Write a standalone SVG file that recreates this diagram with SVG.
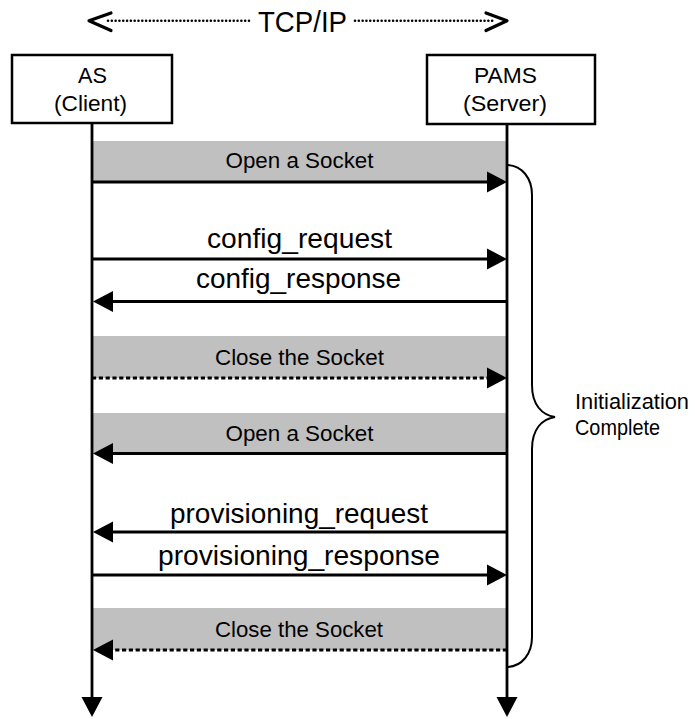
<svg xmlns="http://www.w3.org/2000/svg" width="695" height="719" viewBox="0 0 695 719">
<defs>
<style>
text{font-family:"Liberation Sans",Arial,sans-serif;fill:#000}
.s{font-size:21.5px}
.m{font-size:28px}
.c{text-anchor:middle}
.box{fill:#fff;stroke:#000;stroke-width:2.5}
.band{fill:#c0c0c0}
.life{stroke:#000;stroke-width:2.8;fill:none}
.msg{stroke:#000;stroke-width:2.8;fill:none}
.dash{stroke-dasharray:4.2 2.6}
.dot{stroke:#000;stroke-width:2.6;stroke-linecap:round;stroke-dasharray:0.01 3.8;fill:none}
.chev{stroke:#000;stroke-width:3.2;stroke-linecap:round;stroke-linejoin:round;fill:none}
</style>
<marker id="ah" markerUnits="userSpaceOnUse" markerWidth="20" markerHeight="21" refX="0" refY="10.5" orient="auto" overflow="visible">
<path d="M0,0 L20,10.5 L0,21 Z" fill="#000"/>
</marker>
</defs>
<rect width="695" height="719" fill="#fff"/>
<g id="tcpip">
<line class="dot" x1="108" y1="20.7" x2="252" y2="20.7"/>
<line class="dot" x1="355" y1="20.7" x2="494" y2="20.7"/>
<polyline class="chev" points="111,13 89,20.7 111,30.5"/>
<polyline class="chev" points="486,13 507,20.7 486,30.5"/>
<text class="c" x="302.5" y="31.5" font-size="30" textLength="89" lengthAdjust="spacingAndGlyphs">TCP/IP</text>
</g>
<g id="bands">
<rect class="band" x="92" y="141" width="415" height="41"/>
<rect class="band" x="92" y="336" width="415" height="42"/>
<rect class="band" x="92" y="413" width="415" height="40.5"/>
<rect class="band" x="92" y="608" width="415" height="42"/>
</g>
<g id="as">
<rect class="box" x="12" y="55" width="160" height="68"/>
<text class="s c" x="92.5" y="83" textLength="29" lengthAdjust="spacingAndGlyphs">AS</text>
<text class="s c" x="90.5" y="111" textLength="73" lengthAdjust="spacingAndGlyphs">(Client)</text>
</g>
<g id="pams">
<rect class="box" x="427" y="55" width="168" height="69"/>
<text class="s c" x="505.5" y="83" textLength="63" lengthAdjust="spacingAndGlyphs">PAMS</text>
<text class="s c" x="505" y="111" textLength="84" lengthAdjust="spacingAndGlyphs">(Server)</text>
</g>
<g id="connectors">
<line class="life" x1="92" y1="123" x2="92" y2="697" marker-end="url(#ah)"/>
<line class="life" x1="507" y1="124" x2="507" y2="697" marker-end="url(#ah)"/>
<line class="msg" x1="92" y1="182" x2="487" y2="182" marker-end="url(#ah)"/>
<line class="msg" x1="92" y1="259" x2="487" y2="259" marker-end="url(#ah)"/>
<line class="msg" x1="507" y1="301.5" x2="113" y2="301.5" marker-end="url(#ah)"/>
<line class="msg dash" x1="92" y1="378" x2="487" y2="378" marker-end="url(#ah)"/>
<line class="msg" x1="507" y1="453.5" x2="113" y2="453.5" marker-end="url(#ah)"/>
<line class="msg" x1="507" y1="532" x2="113" y2="532" marker-end="url(#ah)"/>
<line class="msg" x1="92" y1="575" x2="487" y2="575" marker-end="url(#ah)"/>
<line class="msg dash" x1="507" y1="650" x2="113" y2="650" marker-end="url(#ah)"/>
<path d="M508,165 C522,166 532,178 532,195 L532,385 C532,405 542,415 555,417 C542,419 532,429 532,449 L532,637 C532,654 522,666 508,667" fill="none" stroke="#000" stroke-width="2"/>
</g>
<g id="labels">
<text class="s c" x="299.5" y="168" textLength="148" lengthAdjust="spacingAndGlyphs">Open a Socket</text>
<text class="m c" x="299.5" y="248" textLength="185" lengthAdjust="spacingAndGlyphs">config_request</text>
<text class="m c" x="298.5" y="288" textLength="205" lengthAdjust="spacingAndGlyphs">config_response</text>
<text class="s c" x="299.5" y="365" textLength="169" lengthAdjust="spacingAndGlyphs">Close the Socket</text>
<text class="s c" x="299.5" y="441" textLength="148" lengthAdjust="spacingAndGlyphs">Open a Socket</text>
<text class="m c" x="299" y="523" textLength="258" lengthAdjust="spacingAndGlyphs">provisioning_request</text>
<text class="m c" x="299" y="565" textLength="282" lengthAdjust="spacingAndGlyphs">provisioning_response</text>
<text class="s c" x="299" y="637" textLength="168" lengthAdjust="spacingAndGlyphs">Close the Socket</text>
</g>
<g id="note">
<text class="s" x="575" y="409" textLength="114" lengthAdjust="spacingAndGlyphs">Initialization</text>
<text class="s" x="575" y="435" textLength="85" lengthAdjust="spacingAndGlyphs">Complete</text>
</g>
</svg>
